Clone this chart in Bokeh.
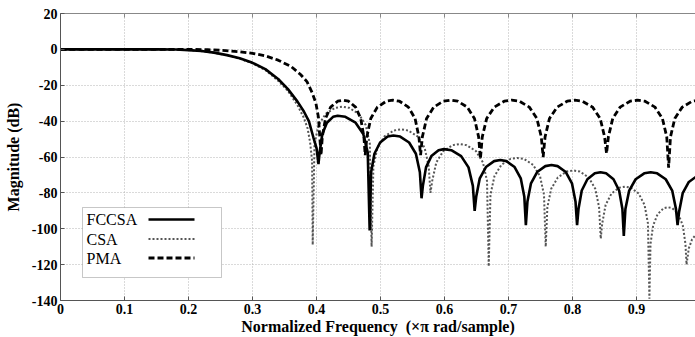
from bokeh.plotting import figure
from bokeh.models import LinearAxis, FixedTicker, Label, BoxAnnotation, Arrow, Range1d
from bokeh.embed import file_html
from bokeh.resources import INLINE

# ---------------- data ----------------
x_ticks = [0, 0.1, 0.2, 0.3, 0.4, 0.5, 0.6, 0.7, 0.8, 0.9]
x_tick_labels = ["0", "0.1", "0.2", "0.3", "0.4", "0.5", "0.6", "0.7", "0.8", "0.9"]
y_ticks = [20, 0, -20, -40, -60, -80, -100, -120, -140]
y_tick_labels = ["20", "0", "-20", "-40", "-60", "-80", "-100", "-120", "-140"]
series_names = ["FCCSA", "CSA", "PMA"]

fccsa_x = [0, 0.05, 0.1, 0.15, 0.18, 0.2, 0.22, 0.24, 0.26, 0.28, 0.3, 0.32, 0.34, 0.355, 0.37, 0.38, 0.388, 0.395, 0.4, 0.403,
           0.4048, 0.409, 0.4162, 0.4258, 0.433, 0.445, 0.461, 0.473, 0.480, 0.483,
           0.4852, 0.4904, 0.4993, 0.5111, 0.52, 0.5306, 0.5446, 0.5552, 0.5614, 0.564,
           0.5661, 0.571, 0.5794, 0.5906, 0.599, 0.6105, 0.6259, 0.6374, 0.6442, 0.647,
           0.6494, 0.655, 0.6646, 0.6774, 0.687, 0.6966, 0.7094, 0.719, 0.7246, 0.727,
           0.7294, 0.735, 0.7446, 0.7574, 0.767, 0.7766, 0.7894, 0.799, 0.8046, 0.807,
           0.8092, 0.8143, 0.8231, 0.8347, 0.8435, 0.8523, 0.8639, 0.8727, 0.8778, 0.88,
           0.8825, 0.8884, 0.8985, 0.9119, 0.922, 0.9321, 0.9455, 0.9556, 0.9615, 0.964,
           0.9664, 0.972, 0.9816, 0.9944, 1.004]
fccsa_y = [0, 0, 0, 0, -0.1, -0.4, -0.9, -1.8, -3.2, -5, -7.5, -11, -16.5, -22, -29, -34.5, -40, -49, -55, -64,
           -57.5, -47.2, -40.9, -37.6, -37, -37.6, -40.9, -47.2, -57.5, -101,
           -68.5, -58.2, -51.9, -48.6, -48, -48.6, -51.9, -58.2, -68.5, -83,
           -76.1, -65.8, -59.5, -56.2, -55.6, -56.2, -59.5, -65.8, -76.1, -90,
           -82.2, -71.9, -65.6, -62.3, -61.7, -62.3, -65.6, -71.9, -82.2, -98,
           -85, -74.7, -68.4, -65.1, -64.5, -65.1, -68.4, -74.7, -85, -98,
           -89, -78.7, -72.4, -69.1, -68.5, -69.1, -72.4, -78.7, -89, -104,
           -89, -78.7, -72.4, -69.1, -68.5, -69.1, -72.4, -78.7, -89, -98,
           -90.5, -80.2, -73.9, -70.6, -70]

csa_x = [0, 0.05, 0.1, 0.15, 0.18, 0.2, 0.22, 0.24, 0.26, 0.28, 0.3, 0.32, 0.34, 0.355, 0.37, 0.38, 0.386, 0.39, 0.393, 0.394,
         0.3968, 0.4032, 0.4142, 0.429, 0.44, 0.451, 0.4658, 0.4768, 0.4832, 0.486,
         0.4888, 0.4952, 0.5062, 0.521, 0.532, 0.543, 0.5578, 0.5688, 0.5752, 0.578,
         0.5807, 0.5871, 0.598, 0.6126, 0.6235, 0.6344, 0.649, 0.6599, 0.6663, 0.669,
         0.6717, 0.6779, 0.6886, 0.7028, 0.7135, 0.7242, 0.7384, 0.7491, 0.7553, 0.758,
         0.7606, 0.7666, 0.7769, 0.7907, 0.801, 0.8113, 0.8251, 0.8354, 0.8414, 0.844,
         0.8463, 0.8516, 0.8607, 0.8729, 0.882, 0.8911, 0.9033, 0.9124, 0.9177, 0.92,
         0.9217, 0.9258, 0.9328, 0.942, 0.949, 0.956, 0.9652, 0.9722, 0.9763, 0.978,
         0.9815, 0.9865, 0.993, 1.0]
csa_y = [0, 0, 0, 0, -0.1, -0.4, -1.0, -1.9, -3.3, -5.2, -7.8, -11.5, -17.5, -23, -31, -38, -44, -52, -62, -109,
         -52.5, -42.2, -35.9, -32.6, -32, -32.6, -35.9, -42.2, -52.5, -110,
         -65.1, -54.8, -48.5, -45.2, -44.6, -45.2, -48.5, -54.8, -65.1, -80,
         -73.3, -63, -56.7, -53.4, -52.8, -53.4, -56.7, -63, -73.3, -121,
         -81, -70.7, -64.4, -61.1, -60.5, -61.1, -64.4, -70.7, -81, -110,
         -88, -77.7, -71.4, -68.1, -67.5, -68.1, -71.4, -77.7, -88, -105.5,
         -97, -86.7, -80.4, -77.1, -76.5, -77.1, -80.4, -86.7, -97, -139,
         -108.5, -98.2, -91.9, -88.6, -88, -88.6, -91.9, -98.2, -108.5, -120,
         -111, -106, -103, -100]

pma_x = [0, 0.05, 0.1, 0.15, 0.2, 0.23, 0.25, 0.28, 0.3, 0.32, 0.34, 0.36, 0.375, 0.385, 0.393, 0.399, 0.403, 0.407,
         0.409, 0.414, 0.422, 0.433, 0.4415, 0.450, 0.461, 0.469, 0.474, 0.476,
         0.4786, 0.4847, 0.495, 0.5089, 0.5193, 0.5296, 0.5435, 0.5539, 0.5599, 0.5625,
         0.5653, 0.5719, 0.5831, 0.598, 0.6093, 0.6205, 0.6354, 0.6467, 0.6532, 0.656,
         0.6589, 0.6658, 0.6776, 0.6932, 0.705, 0.7168, 0.7324, 0.7442, 0.7511, 0.754,
         0.757, 0.7639, 0.7758, 0.7916, 0.8035, 0.8154, 0.8312, 0.8431, 0.85, 0.853,
         0.8559, 0.8627, 0.8743, 0.8899, 0.9015, 0.9131, 0.9287, 0.9403, 0.9471, 0.95,
         0.9529, 0.9597, 0.9713, 0.9869, 0.9985, 1.0101]
pma_y = [0, 0, 0, 0, 0, -0.2, -0.5, -1.3, -2.2, -3.6, -6, -9.5, -14, -18, -24, -30, -38, -59,
         -48.8, -38.5, -32.2, -28.9, -28.3, -28.9, -32.2, -38.5, -48.8, -59,
         -48.8, -38.5, -32.2, -28.9, -28.3, -28.9, -32.2, -38.5, -48.8, -59,
         -48.8, -38.5, -32.2, -28.9, -28.3, -28.9, -32.2, -38.5, -48.8, -61,
         -48.8, -38.5, -32.2, -28.9, -28.3, -28.9, -32.2, -38.5, -48.8, -60,
         -48.8, -38.5, -32.2, -28.9, -28.3, -28.9, -32.2, -38.5, -48.8, -58,
         -48.8, -38.5, -32.2, -28.9, -28.3, -28.9, -32.2, -38.5, -48.8, -66,
         -48.8, -38.5, -32.2, -28.9, -28.3, -28.9]

# ---------------- figure ----------------
FONT = "Liberation Serif"

p = figure(width=695, height=337, output_backend="svg", toolbar_location=None,
           x_range=Range1d(0, 0.992), y_range=Range1d(-140, 20),
           min_border_left=60, min_border_right=0, min_border_top=13, min_border_bottom=37,
           x_axis_label="Normalized Frequency\u00a0 (\u00d7\u03c0 rad/sample)",
           y_axis_label="Magnitude (dB)")
p.outline_line_color = None
p.background_fill_color = "white"
p.border_fill_color = "white"

p.xaxis.ticker = FixedTicker(ticks=x_ticks)
p.yaxis.ticker = FixedTicker(ticks=y_ticks)
p.xaxis.major_label_overrides = {t: l for t, l in zip(x_ticks, x_tick_labels)}
p.yaxis.major_label_overrides = {t: l for t, l in zip(y_ticks, y_tick_labels)}

for ax in (p.xaxis[0], p.yaxis[0]):
    ax.major_label_text_font = FONT
    ax.major_label_text_font_style = "bold"
    ax.major_label_text_font_size = "14px"
    ax.major_label_text_color = "black"
    ax.axis_label_text_font = FONT
    ax.axis_label_text_font_style = "bold"
    ax.axis_label_text_font_size = "16px"
    ax.axis_label_text_color = "black"
    ax.axis_line_color = "#555555"
    ax.major_tick_line_color = "#555555"
    ax.major_tick_in = 4
    ax.major_tick_out = 0
    ax.minor_tick_line_color = None
    ax.major_label_standoff = 3
p.xaxis.axis_label_standoff = 1
p.yaxis.axis_label_standoff = 7

top = LinearAxis(ticker=FixedTicker(ticks=x_ticks), major_label_text_font_size="0px",
                 major_label_text_color=None, major_label_standoff=0,
                 major_tick_in=4, major_tick_out=0, minor_tick_line_color=None,
                 axis_line_color="#888888", major_tick_line_color="#888888")
p.add_layout(top, "above")

p.grid.grid_line_color = "#b5b5b5"
p.grid.grid_line_dash = "1 2"
p.grid.grid_line_width = 1

CSA_STYLE = dict(line_color="#555555", line_width=2, line_dash="2 2")
FCCSA_STYLE = dict(line_color="black", line_width=2.6)
PMA_STYLE = dict(line_color="black", line_width=2.8, line_dash="6 3")

p.line(csa_x, csa_y, **CSA_STYLE)
p.line(fccsa_x, fccsa_y, **FCCSA_STYLE)
p.line(pma_x, pma_y, **PMA_STYLE)

# ---------------- legend (text left, line sample right) ----------------
p.add_layout(BoxAnnotation(left=22, right=161, bottom=23, top=93,
                           left_units="screen", right_units="screen",
                           bottom_units="screen", top_units="screen",
                           fill_color="white", fill_alpha=1.0,
                           line_color="#444444", line_width=1))
styles = [dict(FCCSA_STYLE, line_dash="solid"), CSA_STYLE, PMA_STYLE]
rows = [81, 61.5, 42.5]
for name, st, yy in zip(series_names, styles, rows):
    p.add_layout(Label(x=26, y=yy, x_units="screen", y_units="screen", text=name,
                       text_font=FONT, text_font_size="16px", text_baseline="middle",
                       text_color="black"))
    p.add_layout(Arrow(end=None, x_start=88, y_start=yy, x_end=134, y_end=yy,
                       start_units="screen", end_units="screen", **st))

open("out.html", "w").write(file_html(p, INLINE))
